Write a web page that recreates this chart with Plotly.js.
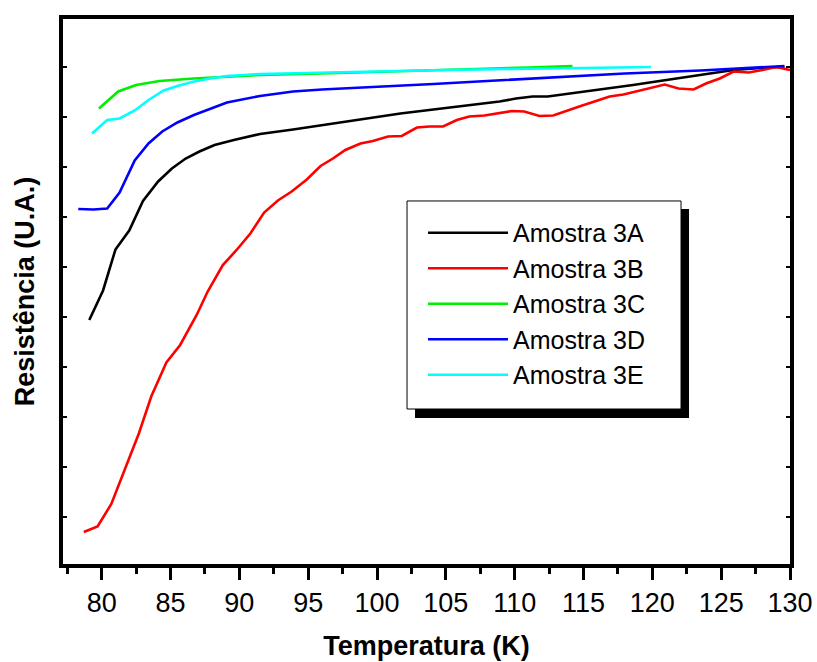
<!DOCTYPE html>
<html>
<head>
<meta charset="utf-8">
<script src="https://cdn.plot.ly/plotly-3.0.1.min.js"></script>
<style>html,body{margin:0;padding:0;background:#fff;}#chart{width:817px;height:662px;}</style>
</head>
<body>
<div id="chart"></div>
<script>
// Temperature (K) and normalised resistance (arbitrary units, R/R(130 K))
const temp3A = [79.1, 80.1, 81.0, 82.0, 83.0, 84.1, 85.1, 86.1, 87.1, 88.2, 89.6, 91.5, 93.9, 96.8, 99.2, 101.7, 104.1, 106.5, 108.9, 110.1, 111.3, 112.4, 113.8, 116.2, 118.6, 119.8, 121.0, 123.5, 125.9, 128.3, 129.6];
const res3A  = [0.494, 0.553, 0.635, 0.673, 0.732, 0.771, 0.797, 0.817, 0.831, 0.844, 0.854, 0.866, 0.875, 0.887, 0.897, 0.907, 0.915, 0.923, 0.931, 0.937, 0.941, 0.941, 0.946, 0.956, 0.964, 0.969, 0.974, 0.984, 0.994, 0.999, 1.000];

const temp3B = [78.7, 79.7, 80.7, 81.7, 82.7, 83.6, 84.7, 85.7, 86.9, 87.7, 88.8, 89.8, 90.8, 91.8, 92.8, 93.8, 94.9, 95.9, 96.8, 97.7, 98.8, 99.7, 100.8, 101.8, 102.9, 103.8, 104.8, 105.8, 106.7, 107.8, 108.8, 109.8, 110.7, 111.8, 112.8, 113.9, 114.8, 115.8, 116.9, 117.9, 118.8, 119.8, 120.9, 121.9, 123.0, 123.9, 124.9, 125.9, 127.0, 128.0, 129.0, 130.0];
const res3B  = [0.070, 0.081, 0.126, 0.195, 0.267, 0.341, 0.409, 0.444, 0.504, 0.551, 0.604, 0.634, 0.667, 0.709, 0.733, 0.751, 0.775, 0.802, 0.817, 0.834, 0.847, 0.852, 0.861, 0.862, 0.879, 0.881, 0.881, 0.894, 0.901, 0.903, 0.907, 0.912, 0.911, 0.902, 0.903, 0.914, 0.922, 0.931, 0.941, 0.945, 0.951, 0.957, 0.965, 0.957, 0.955, 0.967, 0.977, 0.991, 0.989, 0.994, 1.000, 0.994];

const temp3C = [79.8, 81.2, 82.5, 84.2, 86.7, 89.1, 91.5, 95.9, 100.0, 104.1, 108.0, 111.0, 114.2];
const res3C  = [0.917, 0.951, 0.964, 0.972, 0.977, 0.981, 0.984, 0.987, 0.990, 0.993, 0.996, 0.999, 1.002];

const temp3D = [78.3, 79.4, 80.4, 81.3, 82.4, 83.4, 84.4, 85.5, 86.7, 87.9, 89.1, 91.5, 93.9, 96.0, 100.0, 104.1, 108.0, 113.8, 118.0, 123.5, 129.6];
const res3D  = [0.716, 0.715, 0.717, 0.749, 0.813, 0.847, 0.871, 0.889, 0.904, 0.917, 0.929, 0.942, 0.951, 0.955, 0.960, 0.966, 0.972, 0.981, 0.987, 0.993, 1.002];

const temp3E = [79.3, 80.4, 81.3, 82.4, 83.4, 84.5, 85.5, 86.7, 87.9, 89.1, 91.5, 95.9, 100.0, 105.0, 110.0, 115.0, 119.9];
const res3E  = [0.867, 0.894, 0.897, 0.913, 0.934, 0.953, 0.962, 0.971, 0.977, 0.982, 0.986, 0.989, 0.991, 0.994, 0.996, 0.998, 1.000];

const seriesNames  = ["Amostra 3A", "Amostra 3B", "Amostra 3C", "Amostra 3D", "Amostra 3E"];
const seriesColors = ["#000000", "#ff0000", "#00ee00", "#0000ff", "#00ffff"];
const xTickVals = [80, 85, 90, 95, 100, 105, 110, 115, 120, 125, 130];

const xs = [temp3A, temp3B, temp3C, temp3D, temp3E];
const ys = [res3A, res3B, res3C, res3D, res3E];

const FONT = "Arial, 'Liberation Sans', sans-serif";

const traces = seriesNames.map((n, i) => ({
  x: xs[i], y: ys[i], name: n, type: "scatter", mode: "lines",
  line: {color: seriesColors[i], width: 2.6}, cliponaxis: false
}));

const layout = {
  width: 817, height: 662,
  margin: {l: 63, r: 27, t: 19, b: 98},
  paper_bgcolor: "#fff", plot_bgcolor: "#fff",
  showlegend: true,
  legend: {
    x: 0.4952, y: 0.6496, xanchor: "left", yanchor: "top",
    bgcolor: "rgba(0,0,0,0)", borderwidth: 0,
    font: {family: FONT, size: 25, color: "#000"},
    itemwidth: 80, traceorder: "normal"
  },
  xaxis: {
    range: [77.19, 130.0],
    tickvals: xTickVals, ticktext: xTickVals.map(String),
    ticks: "outside", ticklen: 12, tickwidth: 3, tickcolor: "#000",
    minor: {dtick: 2.5, tick0: 77.5, ticks: "outside", ticklen: 6, tickwidth: 3, tickcolor: "#000"},
    showline: true, linewidth: 4, linecolor: "#000", mirror: true,
    showgrid: false, zeroline: false,
    tickfont: {family: FONT, size: 27, color: "#000"},
    title: {text: "Temperatura (K)", font: {family: FONT, size: 27, color: "#000", weight: "bold"}, standoff: 20}
  },
  yaxis: {
    range: [0.006, 1.096],
    tick0: 0, dtick: 0.1,
    ticks: "inside", ticklen: 4, tickwidth: 2, tickcolor: "#000",
    showticklabels: false,
    showline: true, linewidth: 4, linecolor: "#000", mirror: "ticks",
    showgrid: false, zeroline: false,
    title: {text: "Resistência (U.A.)", font: {family: FONT, size: 27, color: "#000", weight: "bold"}, standoff: 18}
  },
  shapes: [
    {type: "rect", xref: "paper", yref: "paper", x0: 0.4842, x1: 0.8611, y0: 0.2679, y1: 0.6514,
     fillcolor: "#000", line: {width: 0}, layer: "above"},
    {type: "rect", xref: "paper", yref: "paper", x0: 0.4732, x1: 0.8501, y0: 0.2844, y1: 0.6661,
     fillcolor: "#fff", line: {color: "#000", width: 1}, layer: "above"}
  ]
};

Plotly.newPlot("chart", traces, layout, {displayModeBar: false, staticPlot: true});
</script>
</body>
</html>
